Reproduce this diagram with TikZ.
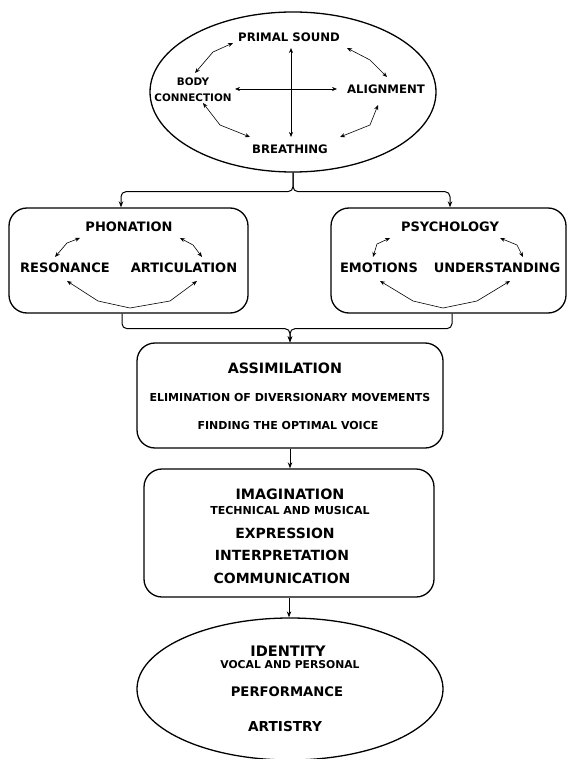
\documentclass[tikz,border=0pt]{standalone}
\usepackage{fontspec}
\setmainfont{DejaVu Sans}
\usetikzlibrary{shapes.geometric,arrows.meta}
\begin{document}
\begin{tikzpicture}[x=1pt,y=-1pt,
  lab/.style={inner sep=0pt, font=\bfseries\fontsize{#1}{#1}\selectfont},
  rbox/.style={draw, line width=1.3pt, rounded corners=18pt, inner sep=0pt},
  oval/.style={draw, ellipse, line width=1.3pt, inner sep=0pt},
  dbl/.style={line width=0.6pt, {Stealth[length=5pt,width=4pt]}-{Stealth[length=5pt,width=4pt]}},
  conn/.style={line width=1pt, rounded corners=5pt, -{Stealth[length=6pt,width=4.5pt]}}
]
\useasboundingbox (0,0) rectangle (567,759);

% top ellipse
\node[oval, minimum width=286pt, minimum height=160pt] (E) at (293,92) {};
\node[lab=11.7] (ps) at (289,37) {PRIMAL SOUND};
\node[lab=11.7] (al) at (386,89) {ALIGNMENT};
\node[lab=11.7] (br) at (290,149) {BREATHING};
\node[inner sep=0pt, align=center, font=\bfseries\fontsize{10.4}{16}\selectfont] (bc) at (193,90) {BODY\\CONNECTION};
\draw[dbl] (291,48) -- (291,137);
\draw[dbl] (235,89) -- (337,89);
\draw[dbl] (233,43) -- (213,52) -- (195,73);
\draw[dbl] (347,48) -- (370,60) -- (387,77);
\draw[dbl] (203,103) -- (220,125) -- (250,137);
\draw[dbl] (378,105) -- (370,125) -- (340,137);

% left and right boxes
\node[rbox, minimum width=239pt, minimum height=105pt] (L) at (128.5,260.5) {};
\node[rbox, minimum width=235pt, minimum height=105pt] (R) at (448.5,260.5) {};
\node[lab=13] (ph) at (129,227) {PHONATION};
\node[lab=13] (re) at (65,268) {RESONANCE};
\node[lab=13] (ar) at (184,268) {ARTICULATION};
\node[lab=13] (py) at (450,227) {PSYCHOLOGY};
\node[lab=13] (em) at (379,268) {EMOTIONS};
\node[lab=13] (un) at (497,268) {UNDERSTANDING};
\draw[dbl] (80,238) -- (67,243) -- (55,257);
\draw[dbl] (180,238) -- (193,245) -- (202,257);
\draw[dbl] (67,281) -- (98,301) -- (130,308) -- (170,301) -- (197,281);
\draw[dbl] (390,238) -- (377,244) -- (373,257);
\draw[dbl] (500,238) -- (517,245) -- (523,257);
\draw[dbl] (380,281) -- (413,301) -- (443,308) -- (477,301) -- (510,281);

% assimilation
\node[rbox, minimum width=306pt, minimum height=105pt] (A) at (290,395.5) {};
\node[lab=14.3] (as) at (285,368) {ASSIMILATION};
\node[lab=11] (el) at (290,397) {ELIMINATION OF DIVERSIONARY MOVEMENTS};
\node[lab=11] (fi) at (288,425) {FINDING THE OPTIMAL VOICE};

% imagination
\node[rbox, minimum width=290pt, minimum height=128pt] (I) at (289,533) {};
\node[lab=14.3] (im) at (290,494) {IMAGINATION};
\node[lab=11] (te) at (290,510) {TECHNICAL AND MUSICAL};
\node[lab=14] (ex) at (285,533) {EXPRESSION};
\node[lab=14] (in) at (282,555) {INTERPRETATION};
\node[lab=14] (co) at (282,578) {COMMUNICATION};

% identity ellipse
\node[oval, minimum width=306pt, minimum height=142pt] (F) at (290,689) {};
\node[lab=14.5] (id) at (288,651) {IDENTITY};
\node[lab=10.8] (vo) at (290,665) {VOCAL AND PERSONAL};
\node[lab=13.2] (pe) at (287,692) {PERFORMANCE};
\node[lab=13.7] (at) at (285,727) {ARTISTRY};

% connectors
\draw[conn] (E.south) -- ++(0,19) -| ([xshift=-7.5pt]L.north);
\draw[conn] (E.south) -- ++(0,19) -| ([xshift=1.5pt]R.north);
\draw[conn] ([xshift=-6.5pt]L.south) -- ++(0,15) -| (A.north);
\draw[conn] ([xshift=3.5pt]R.south) -- ++(0,15) -| (A.north);
\draw[conn] (A.south) -- (A.south |- I.north);
\draw[conn] (I.south) -- (I.south |- F.north);
\end{tikzpicture}
\end{document}
